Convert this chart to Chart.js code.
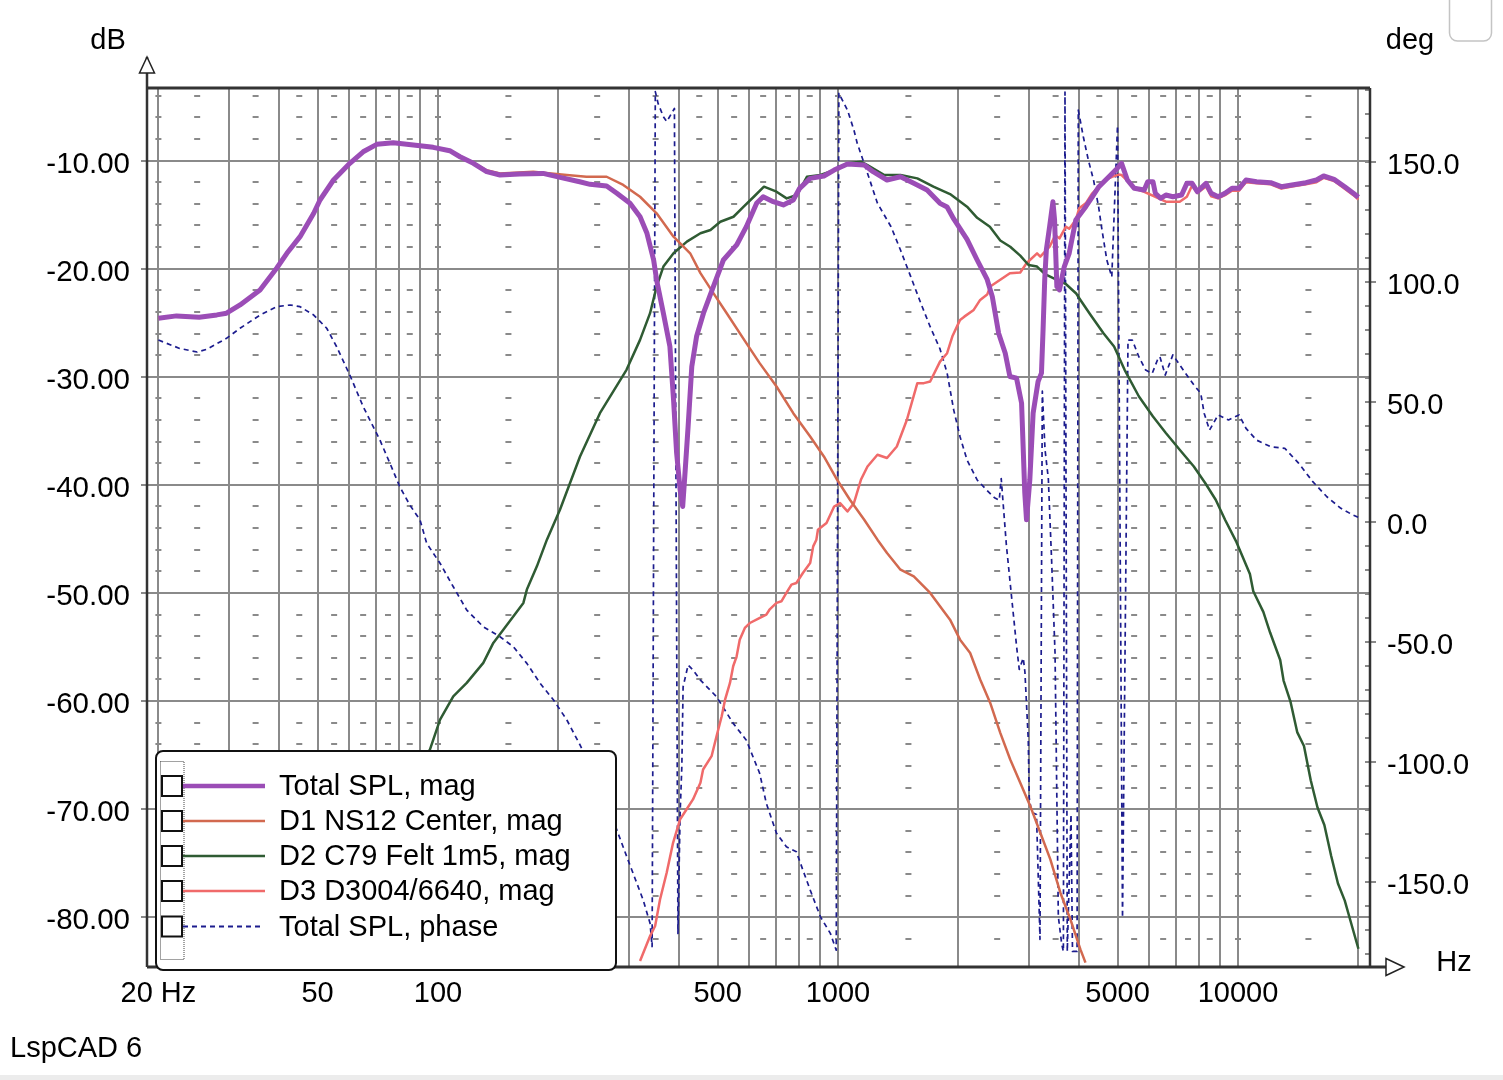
<!DOCTYPE html>
<html><head><meta charset="utf-8">
<script src="https://cdn.jsdelivr.net/npm/chart.js@4.4.1/dist/chart.umd.min.js"></script>
<style>html,body{margin:0;padding:0;background:#fff;overflow:hidden}canvas{display:block}</style>
</head><body>
<canvas id="c" width="1503" height="1080"></canvas>
<script>
// ---------- data ----------
const totalFreq = [20,22.2,25.3,28,29.6,32,35.9,39.5,41.9,45.2,48.9,50.7,54.8,60.2,65,70.3,77.3,86.8,97.3,107,113.5,122.6,132.3,142.9,160,183,202,226,240,264,280,302,320,333,346,352,366,380,388,395,403,409,414,422,431,443,461,488,517,558,590,626,650,689,730,773,802,852,922,978,1056,1163,1224,1326,1433,1547,1670,1799,1874,1947,2102,2228,2360,2431,2521,2619,2690,2795,2877,2903,2931,2960,3017,3075,3164,3226,3256,3287,3318,3381,3446,3479,3525,3578,3679,3784,3931,4163,4323,4490,4757,4945,5116,5290,5505,5828,5947,6130,6214,6405,6601,6873,7227,7450,7677,7913,8318,8568,8918,9282,9663,10060,10470,11130,12070,12830,13640,14780,15710,16370,17390,18480,19430,20000];
const totalMag = [-24.58,-24.37,-24.49,-24.28,-24.12,-23.36,-21.97,-19.96,-18.58,-17.04,-14.88,-13.65,-11.8,-10.26,-9.19,-8.5,-8.35,-8.57,-8.78,-9.09,-9.65,-10.26,-11.03,-11.34,-11.25,-11.19,-11.56,-11.96,-12.2,-12.36,-13.03,-13.96,-15.2,-16.73,-19.2,-21.04,-24.13,-27.2,-32.1,-37.06,-40.45,-42.0,-39.2,-34.6,-29.06,-26.28,-24.12,-21.66,-19.2,-17.81,-16.12,-13.96,-13.35,-13.81,-14.11,-13.65,-12.57,-11.65,-11.43,-10.88,-10.32,-10.42,-11.03,-11.8,-11.5,-12.1,-12.73,-13.96,-14.3,-15.4,-17.3,-19.2,-21.0,-22.59,-25.97,-27.82,-29.98,-30.13,-32.44,-36.45,-40.76,-43.23,-39.53,-33.37,-30.44,-29.67,-25.66,-21.04,-18.27,-16.12,-13.81,-15.5,-21.66,-21.97,-19.81,-18.58,-15.5,-14.27,-13.35,-12.42,-11.5,-10.88,-10.26,-11.8,-12.57,-12.73,-11.96,-11.96,-13.03,-13.49,-13.19,-13.35,-13.19,-12.11,-12.11,-12.88,-12.11,-13.03,-13.35,-13.03,-12.57,-12.57,-11.8,-11.96,-12.05,-12.42,-12.26,-12.05,-11.8,-11.43,-11.74,-12.42,-13.03,-13.4];

const d1Freq = [20,22.2,25.3,28,29.6,32,35.9,39.5,41.9,45.2,48.9,50.7,54.8,60.2,65,70.3,77.3,86.8,97.3,107,113.5,122.6,132.3,142.9,173,210,235,264,290.5,320,352,388,427,453,488,527,590,637,702,773,852,922,995,1071,1163,1255,1326,1433,1547,1700,1799,1906,2019,2140,2267,2402,2545,2695,2855,3025,3205,3395,3597,3811,4037,4156];
const d1Mag = [-24.58,-24.37,-24.49,-24.28,-24.12,-23.36,-21.97,-19.96,-18.58,-17.04,-14.88,-13.65,-11.8,-10.26,-9.19,-8.5,-8.35,-8.57,-8.78,-9.09,-9.6,-10.2,-10.9,-11.2,-11.03,-11.34,-11.5,-11.5,-12.26,-13.35,-14.88,-17.04,-18.58,-20.42,-22.27,-24.12,-26.89,-28.74,-30.9,-33.37,-35.53,-37.37,-39.53,-41.38,-43.23,-45.07,-46.3,-47.85,-48.47,-50.0,-51.24,-52.47,-54.32,-55.55,-58.01,-60.17,-62.94,-65.41,-67.56,-69.72,-72.18,-74.65,-77.73,-80.19,-82.97,-84.2];

const d2Freq = [50,60,70,80,90,95.5,101.2,109.2,118,129.8,137.5,145.8,154.4,163.5,166.8,176.7,187.2,201.8,226.5,254,296,320,339,352,366,388,419,453,480,508,548,581,616,653,702,744,789,836,904,978,1056,1141,1185,1306,1433,1579,1732,1906,2102,2228,2397,2545,2695,2855,2995,3145,3291,3525,3706,3940,4037,4264,4610,4900,5206,5654,6130,6601,7150,7755,8278,8796,9282,9914,10710,10920,11570,12030,12750,13000,13520,14060,14620,15200,15810,16440,17100,17780,18490,19230,20000];
const d2Mag = [-83,-78.5,-74,-69.8,-66,-64.47,-61.71,-59.56,-58.32,-56.47,-54.62,-53.39,-52.16,-50.92,-49.69,-47.54,-45.07,-42.3,-37.38,-33.37,-29.36,-26.59,-24.12,-21.66,-19.81,-18.58,-17.5,-16.73,-16.42,-15.66,-15.2,-14.27,-13.35,-12.42,-12.88,-13.5,-13.19,-11.5,-11.34,-10.88,-10.26,-10.11,-10.42,-11.34,-11.34,-11.65,-12.42,-13.1,-14.27,-15.3,-16.12,-17.4,-17.97,-18.8,-19.66,-19.81,-20.5,-21.04,-21.4,-22.3,-22.9,-24.2,-25.97,-27.21,-29.36,-31.83,-33.68,-35.21,-36.76,-38.3,-39.83,-41.38,-43.23,-45.3,-48.25,-49.84,-51.75,-53.66,-56.2,-58.1,-60.02,-62.87,-64.15,-67.33,-69.87,-71.46,-74.33,-76.87,-78.46,-80.69,-82.91];

const d3Freq = [320,339,349,359,373,387,403,418,434,453,460,483,497,512,522,537,547,558,568,585,602,636,662,674,702,722,743,765,787,817,852,867,883,891,936,978,1012,1056,1096,1141,1185,1255,1326,1403,1487,1579,1639,1700,1799,1874,1931,2019,2069,2184,2267,2360,2402,2550,2690,2855,2960,3145,3205,3381,3494,3578,3714,3784,3931,4008,4163,4323,4490,4663,4843,5030,5116,5270,5505,5828,6214,6601,7150,7450,7677,7913,8318,8568,8918,9282,9663,10060,10470,11130,12070,12830,13640,14780,15710,16370,17390,18480,19430,20000];
const d3Mag = [-84.05,-81.74,-80.81,-78.35,-75.88,-73.11,-70.95,-70.03,-69.1,-67.56,-66.33,-65.1,-63.25,-61.4,-59.87,-58.32,-56.78,-55.86,-54.32,-53.24,-52.78,-52.32,-52.01,-51.55,-50.92,-50.77,-50.0,-49.23,-49.08,-48.15,-47.23,-45.69,-45.07,-44.15,-43.53,-42.0,-41.69,-42.46,-41.69,-39.53,-38.3,-37.22,-37.52,-36.45,-33.98,-30.59,-30.59,-30.44,-28.6,-27.82,-26.28,-24.74,-24.44,-23.82,-22.89,-22.4,-21.66,-21.0,-20.42,-20.35,-19.5,-18.58,-18.89,-17.97,-16.9,-17.2,-16.12,-16.3,-15.5,-14.42,-13.96,-13.03,-12.42,-11.8,-11.5,-11.3,-11.34,-11.8,-12.6,-12.9,-13.35,-13.81,-13.81,-13.35,-12.3,-13.0,-12.4,-13.3,-13.5,-13.2,-12.8,-12.8,-12.0,-12.1,-12.2,-12.6,-12.4,-12.2,-12.0,-11.6,-11.9,-12.6,-13.2,-13.6];

const phaseFreq = [20,22.6,25,26.4,29.6,32,35.9,39.5,42.7,45.2,48.9,52.7,55.8,60.2,65,71.6,76,80.3,85,90.2,93.7,101.2,109.2,118,129.8,142.9,154.4,166.8,180,194.5,210,226.5,245,265,282,298.7,307.5,325.8,339,343,349.4,355,366,373,384,390,398,403,407,410,422,434,453,497,547,590,637,662,702,743,787,817,852,904,957,990,1005,1056,1096,1117,1185,1255,1357,1433,1520,1611,1700,1799,1874,1947,2019,2102,2228,2360,2462,2530,2559,2637,2715,2796,2839,2905,2933,2990,3007,3048,3135,3199,3242,3293,3356,3422,3488,3555,3625,3660,3694,3743,3824,3857,3960,3988,4105,4225,4353,4482,4571,4700,4836,4998,5144,5309,5442,5650,5877,6103,6290,6380,6577,6873,7296,7755,8070,8230,8490,8918,9470,10060,10470,11130,12070,13090,14190,15380,16680,18080,19380,20000];
const phaseDeg = [75.7,72.2,70.7,71.8,76.4,80.6,86.1,89.6,90.3,89.6,86.1,80.6,72.9,61.1,48,34,24,14.5,7,0.7,-9,-17.3,-27.1,-36.8,-43.75,-47.9,-52.1,-59,-67.3,-74.3,-82.6,-93,-105,-118,-129.8,-141,-146.5,-157.6,-167.3,-177,179.2,174.3,168.75,166.7,170.2,172.2,-171.5,-121.6,-102,-68.75,-59.7,-61.8,-66,-72.9,-84,-91,-104.8,-117.3,-129.8,-135.4,-137.5,-145.1,-153.4,-164.6,-171.5,-178.5,178.5,171.5,163.2,157.7,145.2,132.7,122.9,113.2,102.1,91,81.25,72,62,46.5,35.4,25.7,17.4,13,10,9,18,-10,-31,-52,-61.5,-56.8,-62.6,-90.7,-115,-121,-122,-174,54.4,30,18,-17,-54.5,-164.5,-176,-179,179,-179,-122,-179,-179,171.5,160.4,150.7,142.4,131.25,121.5,109,102,165,-165,75.7,75.7,68.75,63.2,61.8,67.4,68.75,61.1,69.5,63.2,57,53.5,45.2,38.2,44.5,42.4,44.5,38.9,34,31.25,30.6,24.3,16.7,10.4,5.6,2.8,1.8];

// ---------- axis tick tables ----------
const xGrid = [20,30,40,50,60,70,80,90,100,200,300,400,500,600,700,800,900,1000,2000,3000,4000,5000,6000,7000,8000,9000,10000,20000];
const xLabelValues = [20,50,100,500,1000,5000,10000];
const xLabelTexts = ['20 Hz','50','100','500','1000','5000','10000'];
const dbTicks = [-80,-70,-60,-50,-40,-30,-20,-10];
const dbMinor = [-82,-78,-76,-74,-72,-68,-66,-64,-62,-58,-56,-54,-52,-48,-46,-44,-42,-38,-36,-34,-32,-28,-26,-24,-22,-18,-16,-14,-12,-8,-6,-4];
const dashFreq = [20,25,35,45,55,65,75,85,100,150,250,350,450,550,650,750,850,1000,1500,2500,3500,4500,5500,6500,7500,8500,10000,15000];
const degLabels = [-150,-100,-50,0,50,100,150];
const degTicks = [-180,-170,-160,-150,-140,-130,-120,-110,-100,-90,-80,-70,-60,-50,-40,-30,-20,-10,0,10,20,30,40,50,60,70,80,90,100,110,120,130,140,150,160,170,180];

const pts = (f, v) => f.map((x, i) => ({x: x, y: v[i]}));
const FONT = "'Liberation Sans', Arial, sans-serif";

const decor = {
  id: 'decor',
  beforeDatasetsDraw(chart) {
    const {ctx, scales} = chart;
    const x = scales.x, y = scales.y;
    ctx.save();
    ctx.strokeStyle = '#8a8a8a';
    ctx.lineWidth = 2;
    ctx.beginPath();
    for (const v of dbMinor) {
      const py = Math.round(y.getPixelForValue(v));
      for (const f of dashFreq) {
        const px = x.getPixelForValue(f);
        ctx.moveTo(px - 3, py); ctx.lineTo(px + 3, py);
      }
    }
    ctx.stroke();
    ctx.restore();
  },
  afterDatasetsDraw(chart) {
    const {ctx, chartArea: a, scales} = chart;
    const y2 = scales.y2;
    ctx.save();
    // right axis tick marks
    ctx.strokeStyle = '#8a8a8a';
    ctx.lineWidth = 2;
    ctx.beginPath();
    for (const v of degTicks) {
      const py = Math.round(y2.getPixelForValue(v));
      const major = degLabels.indexOf(v) >= 0;
      ctx.moveTo(a.right - 5, py); ctx.lineTo(a.right + (major ? 6 : 0), py);
    }
    ctx.stroke();
    // frame
    ctx.strokeStyle = '#333';
    ctx.lineWidth = 3;
    ctx.beginPath();
    ctx.moveTo(a.left, a.top); ctx.lineTo(a.right, a.top);
    ctx.moveTo(a.left, a.bottom); ctx.lineTo(a.right + 16, a.bottom);
    ctx.stroke();
    ctx.lineWidth = 2.5;
    ctx.beginPath();
    ctx.moveTo(a.left, a.top - 31); ctx.lineTo(a.left, a.bottom);
    ctx.moveTo(a.right, a.top); ctx.lineTo(a.right, a.bottom);
    ctx.stroke();
    // arrows
    ctx.lineWidth = 1.5;
    ctx.fillStyle = '#fff';
    ctx.strokeStyle = '#222';
    ctx.beginPath();
    ctx.moveTo(a.left, a.top - 31); ctx.lineTo(a.left - 7.5, a.top - 15); ctx.lineTo(a.left + 7.5, a.top - 15); ctx.closePath();
    ctx.fill(); ctx.stroke();
    ctx.beginPath();
    ctx.moveTo(a.right + 34, a.bottom); ctx.lineTo(a.right + 16, a.bottom - 8.5); ctx.lineTo(a.right + 16, a.bottom + 8.5); ctx.closePath();
    ctx.fill(); ctx.stroke();

    // legend
    const L = {x: 156, y: 751, w: 460, h: 219, r: 7};
    ctx.fillStyle = '#fff';
    ctx.strokeStyle = '#111';
    ctx.lineWidth = 2;
    ctx.beginPath();
    ctx.roundRect(L.x, L.y, L.w, L.h, L.r);
    ctx.fill(); ctx.stroke();
    ctx.lineWidth = 1;
    ctx.setLineDash([1, 1]);
    ctx.strokeStyle = '#444';
    ctx.strokeRect(160.5, 761.5, 23.5, 198);
    ctx.setLineDash([]);
    const rows = [786, 821, 856, 891, 926.5];
    ctx.font = '29px ' + FONT;
    ctx.textBaseline = 'middle';
    ctx.textAlign = 'left';
    chart.data.datasets.forEach((ds, i) => {
      const ry = rows[i];
      ctx.strokeStyle = '#111';
      ctx.lineWidth = 2;
      ctx.fillStyle = '#fff';
      ctx.fillRect(162, ry - 10, 20, 20);
      ctx.strokeRect(162, ry - 10, 20, 20);
      ctx.strokeStyle = ds.borderColor;
      ctx.lineWidth = i === 0 ? 4.5 : (i === 4 ? 2 : 2.5);
      ctx.setLineDash(ds.borderDash || []);
      ctx.beginPath();
      ctx.moveTo(183, ry); ctx.lineTo(i === 4 ? 260 : 265, ry);
      ctx.stroke();
      ctx.setLineDash([]);
      ctx.fillStyle = '#000';
      ctx.fillText(ds.label, 279, ry + 1);
    });

    // titles
    ctx.font = '29px ' + FONT;
    ctx.fillStyle = '#000';
    ctx.textAlign = 'center';
    ctx.fillText('dB', 108, 41);
    ctx.fillText('deg', 1410, 41);
    ctx.fillText('Hz', 1454, 963);
    ctx.textAlign = 'left';
    ctx.fillText('LspCAD 6', 10, 1049);

    // window decorations
    ctx.strokeStyle = '#c4c4c4';
    ctx.lineWidth = 1.5;
    ctx.beginPath();
    ctx.roundRect(1449.5, -12, 42, 53, 8);
    ctx.stroke();
    ctx.fillStyle = '#ececec';
    ctx.fillRect(0, 1075, 1503, 5);
    ctx.restore();
  }
};

new Chart(document.getElementById('c'), {
  type: 'line',
  data: {
    datasets: [
      {label: 'Total SPL, mag', data: pts(totalFreq, totalMag), borderColor: '#9b4db6', borderWidth: 5, yAxisID: 'y'},
      {label: 'D1 NS12 Center, mag', data: pts(d1Freq, d1Mag), borderColor: '#d2694f', borderWidth: 2.5, yAxisID: 'y'},
      {label: 'D2 C79 Felt 1m5, mag', data: pts(d2Freq, d2Mag), borderColor: '#2f5b33', borderWidth: 2.5, yAxisID: 'y'},
      {label: 'D3 D3004/6640, mag', data: pts(d3Freq, d3Mag), borderColor: '#f06a6a', borderWidth: 2.5, yAxisID: 'y'},
      {label: 'Total SPL, phase', data: pts(phaseFreq, phaseDeg), borderColor: '#1c1c8e', borderWidth: 1.7, borderDash: [5, 4], yAxisID: 'y2'}
    ]
  },
  options: {
    responsive: false,
    devicePixelRatio: 1,
    animation: false,
    events: [],
    layout: {padding: {top: 88, left: 0, right: 0, bottom: 0}},
    elements: {point: {radius: 0}, line: {tension: 0, borderJoinStyle: 'round'}},
    plugins: {legend: {display: false}, tooltip: {enabled: false}, title: {display: false}},
    scales: {
      x: {
        type: 'logarithmic', position: 'bottom', min: 18.73, max: 21380,
        afterBuildTicks: s => { s.ticks = xGrid.map(v => ({value: v})); },
        afterFit: s => { s.height = 113; },
        grid: {color: '#8a8a8a', lineWidth: 2, drawTicks: false},
        border: {display: false},
        ticks: {autoSkip: false, maxRotation: 0, padding: 10, color: '#000', font: {family: FONT, size: 29},
          callback: v => { const i = xLabelValues.indexOf(v); return i >= 0 ? xLabelTexts[i] : ''; }}
      },
      y: {
        type: 'linear', position: 'left', min: -84.6, max: -3.29,
        afterBuildTicks: s => { s.ticks = dbTicks.map(v => ({value: v})); },
        afterFit: s => { s.width = 147; },
        grid: {color: '#8a8a8a', lineWidth: 2, drawTicks: true, tickLength: 6},
        border: {display: false},
        ticks: {padding: 11, labelOffset: 4, color: '#000', font: {family: FONT, size: 29.5}, callback: v => Number(v).toFixed(2)}
      },
      y2: {
        type: 'linear', position: 'right', min: -185.5, max: 180.7,
        afterBuildTicks: s => { s.ticks = degLabels.map(v => ({value: v})); },
        afterFit: s => { s.width = 133; },
        grid: {display: false, drawOnChartArea: false, drawTicks: false},
        border: {display: false},
        ticks: {padding: 17, labelOffset: 4, color: '#000', font: {family: FONT, size: 29}, callback: v => Number(v).toFixed(1)}
      }
    }
  },
  plugins: [decor]
});
</script>
</body></html>
